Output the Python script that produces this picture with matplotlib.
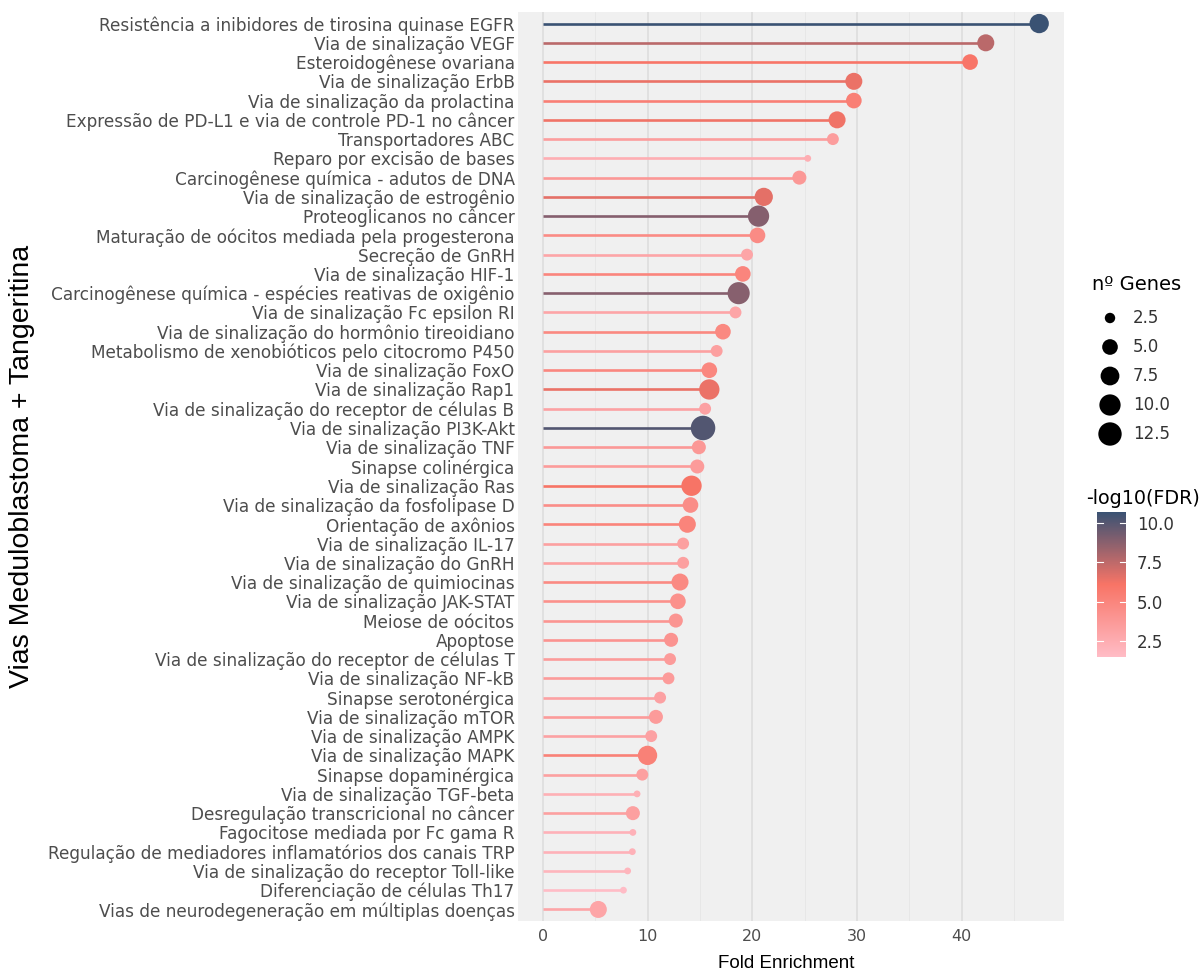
import numpy as np
import matplotlib
matplotlib.use("Agg")
import matplotlib.pyplot as plt
from matplotlib.colors import LinearSegmentedColormap, Normalize
from matplotlib.cm import ScalarMappable

# ---------------- data ----------------
pathways = [
    "Resistência a inibidores de tirosina quinase EGFR",
    "Via de sinalização VEGF",
    "Esteroidogênese ovariana",
    "Via de sinalização ErbB",
    "Via de sinalização da prolactina",
    "Expressão de PD-L1 e via de controle PD-1 no câncer",
    "Transportadores ABC",
    "Reparo por excisão de bases",
    "Carcinogênese química - adutos de DNA",
    "Via de sinalização de estrogênio",
    "Proteoglicanos no câncer",
    "Maturação de oócitos mediada pela progesterona",
    "Secreção de GnRH",
    "Via de sinalização HIF-1",
    "Carcinogênese química - espécies reativas de oxigênio",
    "Via de sinalização Fc epsilon RI",
    "Via de sinalização do hormônio tireoidiano",
    "Metabolismo de xenobióticos pelo citocromo P450",
    "Via de sinalização FoxO",
    "Via de sinalização Rap1",
    "Via de sinalização do receptor de células B",
    "Via de sinalização PI3K-Akt",
    "Via de sinalização TNF",
    "Sinapse colinérgica",
    "Via de sinalização Ras",
    "Via de sinalização da fosfolipase D",
    "Orientação de axônios",
    "Via de sinalização IL-17",
    "Via de sinalização do GnRH",
    "Via de sinalização de quimiocinas",
    "Via de sinalização JAK-STAT",
    "Meiose de oócitos",
    "Apoptose",
    "Via de sinalização do receptor de células T",
    "Via de sinalização NF-kB",
    "Sinapse serotonérgica",
    "Via de sinalização mTOR",
    "Via de sinalização AMPK",
    "Via de sinalização MAPK",
    "Sinapse dopaminérgica",
    "Via de sinalização TGF-beta",
    "Desregulação transcricional no câncer",
    "Fagocitose mediada por Fc gama R",
    "Regulação de mediadores inflamatórios dos canais TRP",
    "Via de sinalização do receptor Toll-like",
    "Diferenciação de células Th17",
    "Vias de neurodegeneração em múltiplas doenças",
]

fold_enrichment = [
    47.4, 42.3, 40.8, 29.7, 29.7, 28.1, 27.7, 25.3, 24.5, 21.1,
    20.6, 20.5, 19.5, 19.1, 18.7, 18.4, 17.2, 16.6, 15.9, 15.9,
    15.5, 15.3, 14.9, 14.75, 14.2, 14.1, 13.8, 13.4, 13.4, 13.1,
    12.9, 12.7, 12.25, 12.15, 12.0, 11.2, 10.8, 10.35, 10.0, 9.5,
    9.0, 8.6, 8.6, 8.55, 8.1, 7.7, 5.3,
]

n_genes = [
    8, 6, 5, 6, 5, 6, 3, 2, 4, 7,
    10, 5, 3, 5, 11, 3, 5, 3, 5, 9,
    3, 14, 4, 4, 9, 5, 6, 3, 3, 6,
    5, 4, 4, 3, 3, 3, 4, 3, 8, 3,
    2, 4, 2, 2, 2, 2, 6,
]

neg_log10_fdr = [
    10.7, 7.6, 6.0, 6.4, 5.4, 6.3, 3.5, 2.4, 3.8, 6.6,
    8.9, 4.6, 3.0, 5.0, 8.8, 3.0, 4.8, 3.3, 4.9, 6.4,
    3.2, 10.1, 3.8, 3.6, 6.1, 4.5, 5.1, 3.3, 3.3, 4.7,
    4.3, 4.0, 4.1, 3.6, 3.6, 3.2, 3.6, 3.2, 5.3, 3.3,
    2.3, 3.3, 2.2, 2.2, 2.0, 1.5, 3.0,
]

x_ticks = [0, 10, 20, 30, 40]
size_breaks = [2.5, 5.0, 7.5, 10.0, 12.5]
color_breaks = [2.5, 5.0, 7.5, 10.0]

# ---------------- figure ----------------
W, H = 1201, 974
fig = plt.figure(figsize=(W / 100, H / 100), dpi=100)
fig.patch.set_facecolor("white")

def px_box(x0, y0, x1, y1):
    return [x0 / W, 1 - y1 / H, (x1 - x0) / W, (y1 - y0) / H]

ax = fig.add_axes(px_box(518, 12, 1064, 921))

n = len(pathways)
ypos = np.arange(n)[::-1]
fe = np.array(fold_enrichment)
genes = np.array(n_genes, dtype=float)
fdr = np.array(neg_log10_fdr)

cmap = LinearSegmentedColormap.from_list(
    "fdr", ["#FFBCC6", "#F87466", "#3A5273"])
norm = Normalize(vmin=fdr.min(), vmax=fdr.max())

g_min, g_max = genes.min(), genes.max()
d_min, d_max = 6.8, 24.5  # point diameter range in pixels

def diam(v):
    return d_min + (d_max - d_min) * np.sqrt((np.asarray(v) - g_min) / (g_max - g_min))

def area(v):
    return (diam(v) * 0.72) ** 2

cols = cmap(norm(fdr))
ax.hlines(ypos, 0, fe, colors=cols, linewidth=1.9, zorder=2)
ax.scatter(fe, ypos, s=area(genes), c=cols, edgecolors="none", zorder=3)

span = fe.max()
ax.set_xlim(-0.05 * span, span * 1.05)
ax.set_ylim(-0.6, n - 0.4)

ax.set_facecolor("#F0F0F0")
for s in ax.spines.values():
    s.set_visible(False)
ax.set_xticks(x_ticks)
ax.set_xticks([5, 15, 25, 35, 45], minor=True)
ax.grid(True, axis="x", which="major", color="#DCDCDC", linewidth=1.1, zorder=0)
ax.grid(True, axis="x", which="minor", color="#E6E6E6", linewidth=0.6, zorder=0)
ax.set_axisbelow(True)
ax.set_yticks(ypos)
ax.set_yticklabels(pathways)
ax.tick_params(axis="both", which="both", length=0)
ax.tick_params(axis="y", pad=2.5, labelsize=12.2, labelcolor="#4D4D4D")
ax.tick_params(axis="x", pad=6, labelsize=11.5, labelcolor="#4D4D4D")

fig.text(22 / W, 1 - 466 / H, "Vias Meduloblastoma + Tangeritina",
         rotation=90, ha="center", va="center", fontsize=20.5,
         family="Liberation Sans", color="black")
fig.text(786 / W, 1 - 963 / H, "Fold Enrichment", ha="center", va="center",
         fontsize=13.5, family="Liberation Sans", color="black")

# ---------------- size legend ----------------
lax = fig.add_axes(px_box(1080, 270, 1201, 450))
lax.set_xlim(1080, 1201)
lax.set_ylim(450, 270)
lax.axis("off")
lax.text(1092, 285, "nº Genes", ha="left", va="center", fontsize=14, color="black")
leg_y = [318, 347, 376, 405, 434]
lax.scatter([1110] * len(size_breaks), leg_y, s=area(size_breaks),
            color="black", edgecolors="none", clip_on=False)
for yy, b in zip(leg_y, size_breaks):
    lax.text(1133, yy, f"{b:.1f}", ha="left", va="center", fontsize=12, color="#333333")

# ---------------- colour bar ----------------
fig.text(1086 / W, 1 - 498 / H, "-log10(FDR)", ha="left", va="center",
         fontsize=13.8, color="black")
cax = fig.add_axes(px_box(1097, 512, 1126, 657))
sm = ScalarMappable(norm=norm, cmap=cmap)
cb = fig.colorbar(sm, cax=cax, ticks=color_breaks)
cb.outline.set_visible(False)
cb.ax.set_yticklabels([f"{b:.1f}" for b in color_breaks])
cb.ax.tick_params(length=0, pad=8, labelsize=12, labelcolor="#333333")
for b in color_breaks:
    cax.plot([0, 0.2], [b, b], color="white", lw=0.8, transform=cax.get_yaxis_transform())
    cax.plot([0.8, 1.0], [b, b], color="white", lw=0.8, transform=cax.get_yaxis_transform())

fig.savefig("out.png", dpi=100)
